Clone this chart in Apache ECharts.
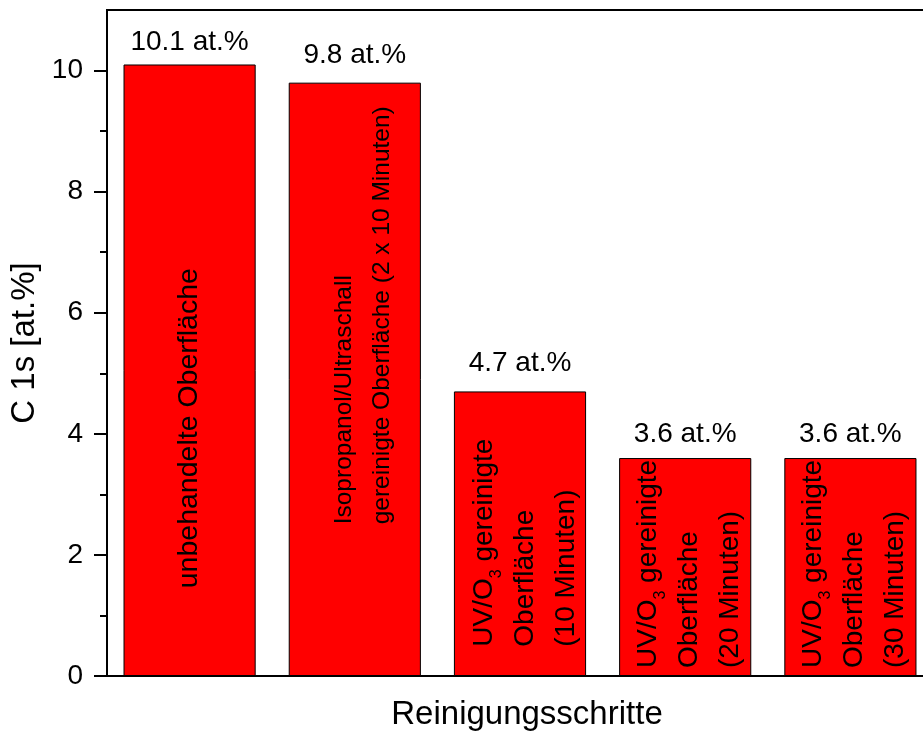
<!DOCTYPE html>
<html>
<head>
<meta charset="utf-8">
<script src="https://cdn.jsdelivr.net/npm/echarts@6/dist/echarts.min.js"></script>
<style>
html,body{margin:0;padding:0;background:#fff;}
#chart{width:923px;height:736px;}
</style>
</head>
<body>
<div id="chart"></div>
<script>
const categories = [
  'unbehandelte Oberfläche',
  'Isopropanol/Ultraschall gereinigte Oberfläche (2 x 10 Minuten)',
  'UV/O3 gereinigte Oberfläche (10 Minuten)',
  'UV/O3 gereinigte Oberfläche (20 Minuten)',
  'UV/O3 gereinigte Oberfläche (30 Minuten)'
];
const barTexts = [
  'unbehandelte Oberfläche',
  'Isopropanol/Ultraschall\ngereinigte Oberfläche (2 x 10 Minuten)',
  'UV/O{sub|3} gereinigte\nOberfläche\n(10 Minuten)',
  'UV/O{sub|3} gereinigte\nOberfläche\n(20 Minuten)',
  'UV/O{sub|3} gereinigte\nOberfläche\n(30 Minuten)'
];
const values = [10.1, 9.8, 4.7, 3.6, 3.6];
const valueTexts = ['10.1 at.%', '9.8 at.%', '4.7 at.%', '3.6 at.%', '3.6 at.%'];
const yMajorTicks = [0, 2, 4, 6, 8, 10];
const yMinorTicks = [1, 3, 5, 7, 9];
const yTitle = 'C 1s [at.%]';
const xTitle = 'Reinigungsschritte';

// styling (not data): offsets in the rotated label frame [up, right]
const innerOffsets = [[-218, 0], [-145, 8], [-113, 5], [-101, 4], [-101, 4]];
const innerFont = [28.5, 24.5, 28, 28, 28];
const innerLineH = [40, 38, 41, 41, 41];
const topDist = [8, 13, 14, 10, 10];
const FONT = 'Liberation Sans, Arial, sans-serif';

const chart = echarts.init(document.getElementById('chart'), null, {renderer: 'canvas'});

const innerData = values.map((v, i) => ({
  value: v,
  label: {
    formatter: barTexts[i],
    offset: innerOffsets[i],
    fontSize: innerFont[i],
    lineHeight: innerLineH[i]
  }
}));
const topData = values.map((v, i) => ({
  value: v,
  label: { formatter: valueTexts[i], distance: topDist[i] }
}));

chart.setOption({
  animation: false,
  grid: {
    left: 107, width: 826, top: 10, bottom: 60,
    outerBoundsMode: 'none',
    containLabel: false,
    show: true, borderColor: '#000', borderWidth: 2, backgroundColor: 'transparent'
  },
  xAxis: {
    type: 'category',
    data: categories,
    axisLine: { lineStyle: { color: '#000', width: 2 } },
    axisTick: { show: false },
    axisLabel: { show: false },
    name: xTitle,
    nameLocation: 'middle',
    nameGap: 22,
    nameTextStyle: { fontFamily: FONT, fontSize: 33, color: '#000', padding: [0, 0, 0, 14] }
  },
  yAxis: [{
    type: 'value',
    min: 0, max: 11,
    splitLine: { show: false },
    axisLine: { show: true, lineStyle: { color: '#000', width: 2 } },
    axisTick: { show: true, length: 13, lineStyle: { color: '#000', width: 2 }, customValues: yMajorTicks },
    axisLabel: { customValues: yMajorTicks, fontFamily: FONT, fontSize: 28, color: '#000', margin: 24 },
    name: yTitle,
    nameLocation: 'middle',
    nameRotate: 90,
    nameGap: 65,
    nameTextStyle: { fontFamily: FONT, fontSize: 33, color: '#000' }
  }, {
    type: 'value',
    position: 'left',
    min: 0, max: 11,
    splitLine: { show: false },
    axisLine: { show: false },
    axisTick: { show: true, length: 7, lineStyle: { color: '#000', width: 2 }, customValues: yMinorTicks },
    axisLabel: { show: false, customValues: yMinorTicks }
  }],
  series: [{
    type: 'bar',
    data: innerData,
    barCategoryGap: '20%',
    itemStyle: { color: '#ff0000', borderColor: '#000', borderWidth: 1 },
    label: {
      show: true,
      position: 'inside',
      rotate: 90,
      align: 'left',
      verticalAlign: 'middle',
      fontFamily: FONT,
      color: '#000',
      rich: {
        sub: { fontSize: 16, fontFamily: FONT, color: '#000', verticalAlign: 'bottom', padding: [12, 0, 0, 0] }
      }
    },
    z: 2
  }, {
    type: 'bar',
    data: topData,
    barGap: '-100%',
    barCategoryGap: '20%',
    itemStyle: { color: 'transparent' },
    label: {
      show: true,
      position: 'top',
      fontFamily: FONT,
      fontSize: 28,
      color: '#000'
    },
    z: 3,
    silent: true
  }]
});
</script>
</body>
</html>
